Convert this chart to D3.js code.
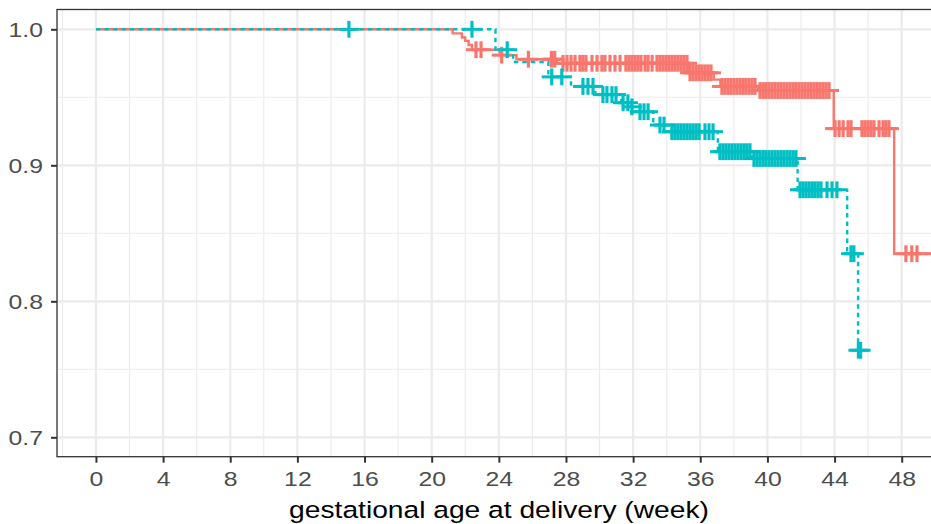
<!DOCTYPE html>
<html>
<head>
<meta charset="utf-8">
<script src="https://cdn.jsdelivr.net/npm/d3@7"></script>
<style>
  body { margin: 0; background: #fff; }
  svg { display: block; font-family: "Liberation Sans", Arial, sans-serif; }
</style>
</head>
<body>
<svg id="chart" width="931" height="524"></svg>
<script>
// Kaplan-Meier steps, group 1 (red, solid)
const redTime = [0, 21.25, 21.8, 22.0, 22.2, 22.4, 24.05, 25.05, 27.45, 35.25, 36.8, 37.2, 39.45, 43.95, 47.55];
const redSurv = [1.0, 0.997, 0.994, 0.9915, 0.9885, 0.985, 0.981, 0.978, 0.975, 0.968, 0.963, 0.958, 0.955, 0.927, 0.835];
const redEnd = 50.0;
const redCensor = [22.64, 22.94, 24.17, 25.76, 27.13, 27.33,
  27.82, 28.06, 28.30, 28.54, 28.83, 29.01, 29.19, 29.55, 29.85, 30.14, 30.32, 30.62, 30.92, 31.22,
  31.57, 31.75, 31.93, 32.11, 32.29, 32.47, 32.71, 32.89, 33.13, 33.42, 33.60, 33.78, 33.96, 34.13,
  34.31, 34.49, 34.67, 34.85, 35.03, 35.21,
  35.39, 35.57, 35.75, 35.93, 36.10, 36.28, 36.46, 36.64,
  37.29, 37.47, 37.65, 37.83, 38.01, 38.19, 38.37, 38.55, 38.72, 38.90, 39.08, 39.26,
  39.56, 39.74, 39.91, 40.09, 40.27, 40.45, 40.63, 40.81, 40.99, 41.17, 41.35, 41.53, 41.70, 41.88,
  42.06, 42.24, 42.42, 42.60, 42.78, 42.96, 43.13, 43.31, 43.49, 43.67,
  44.03, 44.27, 44.51, 44.80, 44.98, 45.63, 45.81, 45.99, 46.17, 46.35, 46.65, 46.89, 47.06, 47.24,
  48.25, 48.60, 48.91, 50.0];

// group 2 (teal, dashed)
const tealTime = [0, 23.8, 24.85, 26.95, 28.3, 29.75, 31.3, 31.8, 32.0, 33.2, 34.0, 37.05, 39.1, 41.8, 44.75, 45.4];
const tealSurv = [1.0, 0.985, 0.976, 0.965, 0.958, 0.952, 0.946, 0.943, 0.9394, 0.9296, 0.9247, 0.910, 0.905, 0.882, 0.835, 0.764];
const tealEnd = 45.55;
const tealCensor = [15.07, 22.4, 24.5, 27.15, 27.75, 29.01, 29.31, 29.61,
  30.2, 30.44, 30.74, 30.98, 31.4, 31.69, 31.93, 32.41, 32.65, 32.89, 33.6, 33.84,
  34.31, 34.49, 34.67, 34.85, 35.03, 35.21, 35.39, 35.57, 35.75, 35.93, 36.28, 36.52, 36.76,
  37.17, 37.35, 37.53, 37.71, 37.89, 38.07, 38.25, 38.43, 38.61, 38.78, 38.96,
  39.20, 39.38, 39.56, 39.74, 39.91, 40.09, 40.27, 40.45, 40.63, 40.81, 40.99, 41.17, 41.35, 41.53, 41.70,
  41.94, 42.12, 42.30, 42.48, 42.66, 42.83, 43.01, 43.19, 43.55, 43.85, 44.14,
  44.98, 45.15, 45.42, 45.55];

const xTicks = [0, 4, 8, 12, 16, 20, 24, 28, 32, 36, 40, 44, 48];
const xMinor = [-2, 2, 6, 10, 14, 18, 22, 26, 30, 34, 38, 42, 46, 50];
const yTicks = [0.7, 0.8, 0.9, 1.0];
const yMinor = [0.75, 0.85, 0.95];
const xTitle = "gestational age at delivery (week)";

const red = "#F8766D";
const teal = "#00BFC4";

const margin = { top: 9.5, left: 57 };
const width = 884;
const height = 447.2;
const stretch = 1.18; // picture is a little wider than tall

const svg = d3.select("#chart");
const g = svg.append("g").attr("transform", `translate(${margin.left},${margin.top})`);

const x = d3.scaleLinear().domain([-2.32, 50.34]).range([0, width]);
const y = d3.scaleLinear().domain([0.68574, 1.01456]).range([height, 0]);

// grid
g.selectAll(".xminor").data(xMinor).enter().append("line")
  .attr("x1", d => x(d)).attr("x2", d => x(d)).attr("y1", 0).attr("y2", height)
  .attr("stroke", "#EBEBEB").attr("stroke-width", 1.1);
g.selectAll(".yminor").data(yMinor).enter().append("line")
  .attr("x1", 0).attr("x2", width).attr("y1", d => y(d)).attr("y2", d => y(d))
  .attr("stroke", "#EBEBEB").attr("stroke-width", 1.1);
g.selectAll(".xmajor").data(xTicks).enter().append("line")
  .attr("x1", d => x(d)).attr("x2", d => x(d)).attr("y1", 0).attr("y2", height)
  .attr("stroke", "#EBEBEB").attr("stroke-width", 2.2);
g.selectAll(".ymajor").data(yTicks).enter().append("line")
  .attr("x1", 0).attr("x2", width).attr("y1", d => y(d)).attr("y2", d => y(d))
  .attr("stroke", "#EBEBEB").attr("stroke-width", 2.2);

// survival step curves
const step = d3.line().x(d => x(d[0])).y(d => y(d[1])).curve(d3.curveStepAfter);

function curvePoints(times, surv, end) {
  const pts = times.map((t, i) => [t, surv[i]]);
  pts.push([end, surv[surv.length - 1]]);
  return pts;
}

function survAt(times, surv, t) {
  let s = surv[0];
  times.forEach((tt, i) => { if (tt <= t) s = surv[i]; });
  return s;
}

g.append("path")
  .datum(curvePoints(redTime, redSurv, redEnd))
  .attr("d", step)
  .attr("fill", "none").attr("stroke", red).attr("stroke-width", 2.4);

g.append("path")
  .datum(curvePoints(tealTime, tealSurv, tealEnd))
  .attr("d", step)
  .attr("fill", "none").attr("stroke", teal).attr("stroke-width", 2.4)
  .attr("stroke-dasharray", "4.5,4");

// censor marks (+)
function drawCensor(times, stimes, ssurv, color) {
  const pts = times.map(t => [t, survAt(stimes, ssurv, t)]);
  const m = g.append("g");
  m.selectAll(".h").data(pts).enter().append("line")
    .attr("x1", d => x(d[0]) - 10).attr("x2", d => x(d[0]) + 10)
    .attr("y1", d => y(d[1])).attr("y2", d => y(d[1]))
    .attr("stroke", color).attr("stroke-width", 3);
  m.selectAll(".v").data(pts).enter().append("line")
    .attr("x1", d => x(d[0])).attr("x2", d => x(d[0]))
    .attr("y1", d => y(d[1]) - 8.4).attr("y2", d => y(d[1]) + 8.4)
    .attr("stroke", color).attr("stroke-width", 3.2);
}
drawCensor(redCensor, redTime, redSurv, red);
drawCensor(tealCensor, tealTime, tealSurv, teal);

// panel border
g.append("rect")
  .attr("x", 0).attr("y", 0).attr("width", width).attr("height", height)
  .attr("fill", "none").attr("stroke", "#333333").attr("stroke-width", 1.3);

// axes
const xAxis = g.append("g").attr("transform", `translate(0,${height})`)
  .call(d3.axisBottom(x).tickValues(xTicks).tickSize(6).tickPadding(8).tickFormat(d3.format("d")));
const yAxis = g.append("g")
  .call(d3.axisLeft(y).tickValues(yTicks).tickSize(6).tickPadding(6).tickFormat(d3.format(".1f")));

[xAxis, yAxis].forEach(a => {
  a.select(".domain").remove();
  a.selectAll(".tick line").attr("stroke", "#333333").attr("stroke-width", 2);
  a.selectAll(".tick text")
    .attr("fill", "#4D4D4D")
    .style("font-size", "21px")
    .style("font-family", "'Liberation Sans', Arial, sans-serif");
});
xAxis.selectAll(".tick text").attr("transform", `scale(${stretch},1)`);
yAxis.selectAll(".tick text").attr("x", -14 / stretch).attr("transform", `scale(${stretch},1)`);

svg.append("text")
  .attr("transform", `translate(${margin.left + width / 2},518) scale(1.2,1)`)
  .attr("text-anchor", "middle")
  .attr("fill", "#000")
  .style("font-size", "23.5px")
  .text(xTitle);
</script>
</body>
</html>
